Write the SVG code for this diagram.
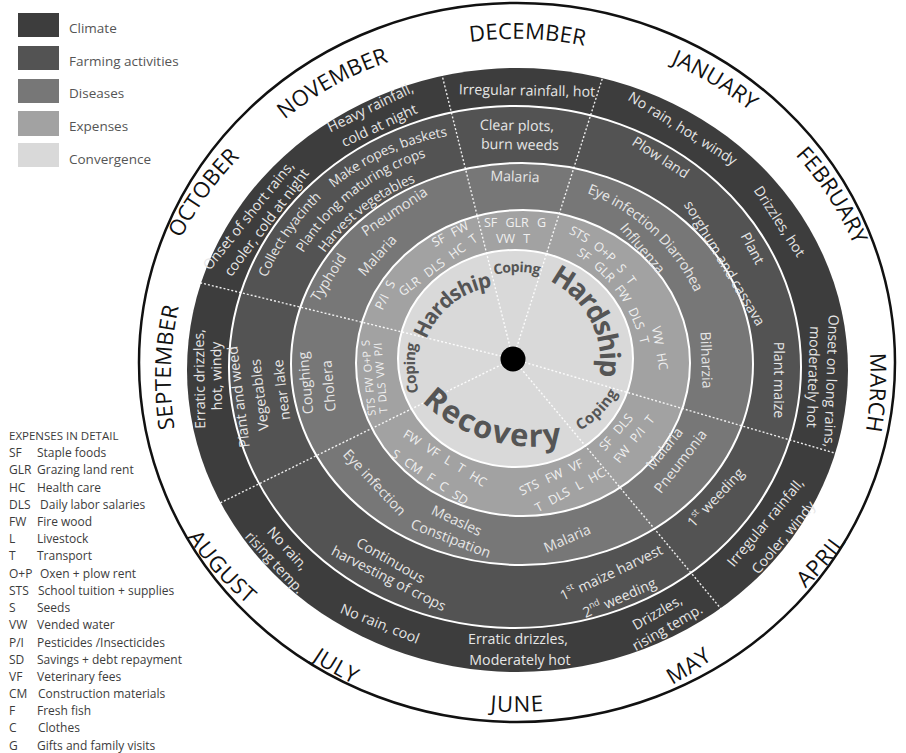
<svg xmlns="http://www.w3.org/2000/svg" width="906" height="753" viewBox="0 0 906 753">
<style>
text{font-family:"Open Sans","Liberation Sans",sans-serif}
.m{font-size:22px;fill:#111;letter-spacing:0.5px;dominant-baseline:central;text-anchor:middle}
.t{font-size:14.2px;fill:#e6e6e6;text-anchor:middle;dominant-baseline:central}
.tc{font-size:13.5px}
.x{font-size:12.5px;fill:#f0f0f0;word-spacing:5px;text-anchor:middle;dominant-baseline:central}
.xs{font-size:11px;word-spacing:2px}
.cv{font-weight:700;fill:#555;text-anchor:middle;dominant-baseline:central}
.lg{font-size:13.5px;fill:#555;dominant-baseline:central}
.ex{font-size:12px;fill:#3c3c3c;dominant-baseline:central}
.dv{stroke:#fff;stroke-width:1.4;stroke-dasharray:2 2;fill:none;opacity:0.9}
.sep{stroke:#fff;stroke-width:2}
</style>
<defs>
<path id="pNov" d="M262.9,126.7 A340,340 0 0 1 406.8,47.0"/>
<path id="pDec" d="M445.4,37.2 A340,340 0 0 1 609.8,43.0"/>
<path id="pJan" d="M641.3,43.3 A340,340 0 0 1 782.3,128.0"/>
<path id="pFeb" d="M782.7,129.5 A340,340 0 0 1 872.3,267.5"/>
<path id="pMar" d="M873.2,310.3 A340,340 0 0 1 864.6,474.6"/>
<path id="pApr" d="M758.4,615.4 A340,340 0 0 0 866.3,491.3"/>
<path id="pMay" d="M613.5,701.3 A340,340 0 0 0 751.5,611.7"/>
<path id="pJun" d="M434.7,692.9 A340,340 0 0 0 599.3,692.9"/>
<path id="pJul" d="M270.8,615.2 A340,340 0 0 0 413.3,697.4"/>
<path id="pAug" d="M174.5,499.1 A340,340 0 0 0 284.6,621.4"/>
<path id="pSep" d="M169.2,449.6 A340,340 0 0 1 175.0,285.2"/>
<path id="pOct" d="M159.9,262.5 A340,340 0 0 1 256.5,129.5"/>
<path id="pCol" d="M249.9,311.0 A250,250 0 0 1 347.0,170.2"/>
<path id="pMak" d="M313.5,199.2 A250,250 0 0 1 469.1,128.3"/>
<path id="pPla" d="M284.5,277.7 A230,230 0 0 1 454.7,144.7"/>
<path id="pHar" d="M299.5,287.1 A210,210 0 0 1 454.8,165.7"/>
<path id="pEye" d="M563.0,179.6 A200,200 0 0 1 709.8,315.5"/>
<path id="pSts" d="M527.1,214.2 A168,168 0 0 1 654.7,323.5"/>
<path id="pSfg" d="M549.2,236.2 A150,150 0 0 1 649.6,376.0"/>
<path id="pCop1" d="M474.7,275.4 A100,100 0 0 1 559.3,275.4"/>
<path id="pHar1" d="M415.0,350.5 A90,90 0 0 1 505.4,278.3"/>
<path id="pHar2" d="M535.5,264.5 A100,100 0 0 1 608.3,385.7"/>
<path id="pCop2" d="M553.1,435.4 A98,98 0 0 0 622.4,366.1"/>
<path id="pRec" d="M415.7,377.0 A150,150 0 0 0 580.3,427.3"/>
<path id="pCop3" d="M424.7,419.5 A104,104 0 0 1 421.1,315.6"/>
</defs>

<g id="legend">
<rect x="18" y="13" width="41" height="24" fill="#3d3d3d"/>
<rect x="18" y="46" width="41" height="24" fill="#535353"/>
<rect x="18" y="79" width="41" height="24" fill="#777"/>
<rect x="18" y="111" width="41" height="25" fill="#a2a2a2"/>
<rect x="18" y="143" width="41" height="24" fill="#d9d9d9"/>
<text class="lg" x="69" y="28">Climate</text>
<text class="lg" x="69" y="61">Farming activities</text>
<text class="lg" x="69" y="93">Diseases</text>
<text class="lg" x="69" y="126">Expenses</text>
<text class="lg" x="69" y="159">Convergence</text>
</g>

<g id="expenses-legend">
<text class="ex" x="9" y="435" style="font-size:11.5px">EXPENSES IN DETAIL</text>
<text class="ex" x="9" y="452">SF</text><text class="ex" x="37" y="452">Staple foods</text>
<text class="ex" x="9" y="469.5">GLR</text><text class="ex" x="37" y="469.5">Grazing land rent</text>
<text class="ex" x="9" y="487">HC</text><text class="ex" x="37" y="487">Health care</text>
<text class="ex" x="9" y="504">DLS</text><text class="ex" x="40" y="504">Daily labor salaries</text>
<text class="ex" x="9" y="521">FW</text><text class="ex" x="37" y="521">Fire wood</text>
<text class="ex" x="9" y="538.5">L</text><text class="ex" x="37" y="538.5">Livestock</text>
<text class="ex" x="9" y="555.5">T</text><text class="ex" x="37" y="555.5">Transport</text>
<text class="ex" x="9" y="573">O+P</text><text class="ex" x="40" y="573">Oxen + plow rent</text>
<text class="ex" x="9" y="590">STS</text><text class="ex" x="38" y="590">School tuition + supplies</text>
<text class="ex" x="9" y="607">S</text><text class="ex" x="37" y="607">Seeds</text>
<text class="ex" x="9" y="624.5">VW</text><text class="ex" x="37" y="624.5">Vended water</text>
<text class="ex" x="9" y="642">P/I</text><text class="ex" x="37" y="642">Pesticides /Insecticides</text>
<text class="ex" x="9" y="659">SD</text><text class="ex" x="37" y="659">Savings + debt repayment</text>
<text class="ex" x="9" y="676">VF</text><text class="ex" x="37" y="676">Veterinary fees</text>
<text class="ex" x="9" y="693">CM</text><text class="ex" x="38" y="693">Construction materials</text>
<text class="ex" x="9" y="710">F</text><text class="ex" x="37" y="710">Fresh fish</text>
<text class="ex" x="9" y="727.5">C</text><text class="ex" x="38" y="727.5">Clothes</text>
<text class="ex" x="9" y="745">G</text><text class="ex" x="37" y="745">Gifts and family visits</text>
</g>

<g id="wheel">
<ellipse cx="517" cy="362.5" rx="378" ry="359.5" fill="#fff" stroke="#111" stroke-width="2.5"/>
<ellipse id="ring-climate" cx="517.5" cy="370" rx="330.5" ry="302" fill="#3d3d3d"/>
<ellipse id="ring-farming" class="sep" cx="515" cy="367" rx="286" ry="261" fill="#535353"/>
<ellipse id="ring-diseases" class="sep" cx="522" cy="364" rx="231" ry="201" fill="#777"/>
<ellipse id="ring-expenses" class="sep" cx="523" cy="363" rx="167" ry="153" fill="#a2a2a2"/>
<ellipse id="ring-convergence" class="sep" cx="515.5" cy="358.5" rx="117.5" ry="108.5" fill="#d9d9d9"/>
</g>

<g id="connectors">
<line class="dv" x1="513" y1="359" x2="441" y2="71"/>
<line class="dv" x1="513" y1="359" x2="605" y2="70"/>
<line class="dv" x1="513" y1="359" x2="838" y2="454"/>
<line class="dv" x1="513" y1="359" x2="722" y2="610"/>
<line class="dv" x1="513" y1="359" x2="218" y2="504"/>
<line class="dv" x1="513" y1="359" x2="193" y2="281"/>
</g>

<g id="months">
<text class="m"><textPath href="#pNov" startOffset="50%">NOVEMBER</textPath></text>
<text class="m"><textPath href="#pDec" startOffset="50%">DECEMBER</textPath></text>
<text class="m"><textPath href="#pJan" startOffset="50%">JANUARY</textPath></text>
<text class="m"><textPath href="#pFeb" startOffset="50%">FEBRUARY</textPath></text>
<text class="m"><textPath href="#pMar" startOffset="50%">MARCH</textPath></text>
<text class="m"><textPath href="#pApr" startOffset="50%">APRIL</textPath></text>
<text class="m"><textPath href="#pMay" startOffset="50%">MAY</textPath></text>
<text class="m"><textPath href="#pJun" startOffset="50%">JUNE</textPath></text>
<text class="m"><textPath href="#pJul" startOffset="50%">JULY</textPath></text>
<text class="m"><textPath href="#pAug" startOffset="50%">AUGUST</textPath></text>
<text class="m"><textPath href="#pSep" startOffset="50%">SEPTEMBER</textPath></text>
<text class="m"><textPath href="#pOct" startOffset="50%">OCTOBER</textPath></text>
</g>

<g id="climate">
<text class="t" transform="translate(527 90) rotate(1)">Irregular rainfall, hot</text>
<text class="t" transform="translate(683 128) rotate(32)">No rain, hot,  windy</text>
<text class="t" transform="translate(780 221) rotate(57)">Drizzles, hot</text>
<text class="t" transform="translate(832 381) rotate(92)">Onset on long rains,</text>
<text class="t" transform="translate(814 377) rotate(92)">moderately hot</text>
<text class="t" transform="translate(765 522) rotate(-50)">Irregular rainfall,</text>
<text class="t" transform="translate(783 537) rotate(-50)">Cooler, windy</text>
<text class="t" transform="translate(657 612) rotate(-30)">Drizzles,</text>
<text class="t" transform="translate(667 627) rotate(-30)">rising temp.</text>
<text class="t" transform="translate(518 638)">Erratic drizzles,</text>
<text class="t" transform="translate(520 659)">Moderately hot</text>
<text class="t" transform="translate(380 623) rotate(22)">No rain, cool</text>
<text class="t" transform="translate(288 548) rotate(48)">No rain,</text>
<text class="t" transform="translate(275 562) rotate(47)">rising temp.</text>
<text class="t" transform="translate(199 379) rotate(-91)">Erratic drizzles,</text>
<text class="t" transform="translate(216 376) rotate(-91)">hot, windy</text>
<text class="t" transform="translate(248 215) rotate(-51)">Onset of short rains,</text>
<text class="t" transform="translate(266 222) rotate(-53)">cooler, cold at night</text>
<text class="t" transform="translate(370 107) rotate(-26)">Heavy rainfall,</text>
<text class="t" transform="translate(379 125) rotate(-25)">cold at night</text>
</g>

<g id="farming">
<text class="t" transform="translate(517 125) rotate(1)">Clear plots,</text>
<text class="t" transform="translate(520 144) rotate(1)">burn weeds</text>
<text class="t" transform="translate(661 157) rotate(33)">Plow land</text>
<text class="t" transform="translate(753 248) rotate(62)">Plant</text>
<text class="t" transform="translate(725 263) rotate(59)">sorghum and cassava</text>
<text class="t" transform="translate(779 380) rotate(90)">Plant maize</text>
<text class="t" transform="translate(715 497) rotate(-47)">1<tspan font-size="9" dy="-5">st</tspan><tspan dy="5"> weeding</tspan></text>
<text class="t" transform="translate(611 572) rotate(-25.5)">1<tspan font-size="9" dy="-5">st</tspan><tspan dy="5"> maize harvest</tspan></text>
<text class="t" transform="translate(619 597) rotate(-24)">2<tspan font-size="9" dy="-5">nd</tspan><tspan dy="5"> weeding</tspan></text>
<text class="t" transform="translate(391 560) rotate(30)">Continuous</text>
<text class="t" transform="translate(389 578) rotate(27)">harvesting of crops</text>
<text class="t" transform="translate(238 397) rotate(-97)">Plant and weed</text>
<text class="t" transform="translate(259 395) rotate(-97)">Vegetables</text>
<text class="t" transform="translate(281 390) rotate(-97)">near lake</text>
<text class="t tc"><textPath href="#pCol" startOffset="50%">Collect hyacinth</textPath></text>
<text class="t tc"><textPath href="#pMak" startOffset="50%">Make ropes, baskets</textPath></text>
<text class="t tc"><textPath href="#pPla" startOffset="50%">Plant long maturing crops</textPath></text>
<text class="t tc"><textPath href="#pHar" startOffset="50%">Harvest vegetables</textPath></text>
</g>

<g id="diseases">
<text class="t" transform="translate(515 176) rotate(2)">Malaria</text>
<text class="t"><textPath href="#pEye" startOffset="50%">Eye infection  Diarrohea</textPath></text>
<text class="t" transform="translate(643 248) rotate(50)">Influenza</text>
<text class="t" transform="translate(707 360) rotate(88)">Bilharzia</text>
<text class="t" transform="translate(664 448) rotate(-51)">Malaria</text>
<text class="t" transform="translate(680 461) rotate(-52)">Pneumonia</text>
<text class="t" transform="translate(567 538) rotate(-23.5)">Malaria</text>
<text class="t" transform="translate(375 482) rotate(47)">Eye infection</text>
<text class="t" transform="translate(457 520) rotate(25)">Measles</text>
<text class="t" transform="translate(451 538) rotate(21)">Constipation</text>
<text class="t" transform="translate(305 383) rotate(-95)">Coughing</text>
<text class="t" transform="translate(328 386) rotate(-95)">Cholera</text>
<text class="t" transform="translate(328 277) rotate(-58)">Typhoid</text>
<text class="t" transform="translate(377 255) rotate(-48)">Malaria</text>
<text class="t" transform="translate(394 211) rotate(-34)">Pneumonia</text>
</g>

<g id="expenses">
<text class="x" transform="translate(515 222)">SF GLR G</text>
<text class="x" transform="translate(513 238)">VW T</text>
<text class="x" transform="translate(450 234) rotate(-28)">SF FW</text>
<text class="x" transform="translate(438 265) rotate(-36.5)">GLR DLS HC T</text>
<text class="x" transform="translate(385 295) rotate(-65)">P/I S</text>
<text class="x xs" transform="translate(368 378) rotate(-95)">STS FW O+P S</text>
<text class="x xs" transform="translate(380 378) rotate(-95)">T DLS VW P/I</text>
<text class="x"><textPath href="#pSts" startOffset="50%">STS O+P S T</textPath></text>
<text class="x"><textPath href="#pSfg" startOffset="50%">SF GLR FW DLS T</textPath></text>
<text class="x" transform="translate(660 348) rotate(80)">VW HC</text>
<text class="x" transform="translate(616 432) rotate(-49)">SF DLS</text>
<text class="x" transform="translate(634 439) rotate(-51)">FW P/I  T</text>
<text class="x" transform="translate(445 458) rotate(32)">FW VF L T HC</text>
<text class="x" transform="translate(430 477) rotate(33.7)">S CM F C SD</text>
<text class="x" transform="translate(551 477) rotate(-25)">STS FW VF</text>
<text class="x" transform="translate(570 490) rotate(-28.6)">T DLS L HC</text>
</g>

<g id="convergence">
<text class="cv" style="font-size:14px"><textPath href="#pCop1" startOffset="50%">Coping</textPath></text>
<text class="cv" style="font-size:21px"><textPath href="#pHar1" startOffset="50%">Hardship</textPath></text>
<text class="cv" style="font-size:28px"><textPath href="#pHar2" startOffset="54%">Hardship</textPath></text>
<text class="cv" style="font-size:15px"><textPath href="#pCop2" startOffset="50%">Coping</textPath></text>
<text class="cv" style="font-size:31px"><textPath href="#pRec" startOffset="50%">Recovery</textPath></text>
<text class="cv" style="font-size:15px"><textPath href="#pCop3" startOffset="50%">Coping</textPath></text>
<circle id="center-dot" cx="513" cy="359" r="12.5" fill="#000"/>
</g>
</svg>
